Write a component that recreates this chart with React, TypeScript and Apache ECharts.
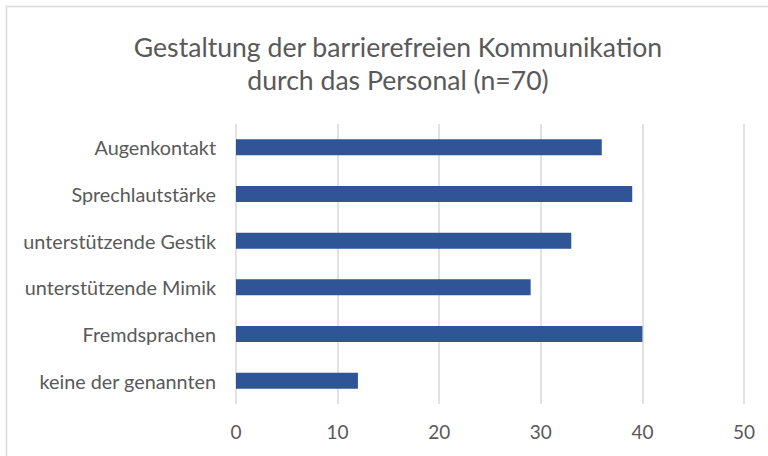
import React, { useEffect, useRef } from "react";
import * as echarts from "echarts";

const categories = [
  "Augenkontakt",
  "Sprechlautstärke",
  "unterstützende Gestik",
  "unterstützende Mimik",
  "Fremdsprachen",
  "keine der genannten",
];
const values = [36, 39, 33, 29, 40, 12];
const titleLines = ["Gestaltung der barrierefreien Kommunikation", "durch das Personal (n=70)"];

const FONT = "Lato, 'Open Sans', sans-serif";

export default function App() {
  const ref = useRef<HTMLDivElement>(null);
  useEffect(() => {
    if (!ref.current) return;
    const chart = echarts.init(ref.current, null, { renderer: "svg" });
    chart.setOption({
      animation: false,
      backgroundColor: "#ffffff",
      title: {
        text: titleLines.join("\n"),
        left: 393,
        textAlign: "center",
        top: 25,
        textStyle: {
          fontFamily: FONT,
          fontSize: 26.6,
          fontWeight: "normal",
          color: "#595959",
          lineHeight: 33,
        },
      },
      graphic: [
        {
          type: "rect",
          shape: { x: 6.5, y: 6.5, width: 800, height: 500 },
          style: { fill: "none", stroke: "#d9d9d9", lineWidth: 1.5 },
          silent: true,
        },
      ],
      grid: { left: 236, right: 24, top: 124, bottom: 52 },
      xAxis: {
        type: "value",
        min: 0,
        max: 50,
        interval: 10,
        axisLine: { show: false },
        axisTick: { show: false },
        splitLine: { show: true, lineStyle: { color: "#d9d9d9", width: 1.5 } },
        axisLabel: {
          fontFamily: FONT,
          fontSize: 19,
          color: "#595959",
          margin: 18,
        },
      },
      yAxis: {
        type: "category",
        data: categories,
        inverse: true,
        axisLine: { show: false },
        axisTick: { show: false },
        splitLine: { show: false },
        axisLabel: {
          fontFamily: FONT,
          fontSize: 19.8,
          color: "#595959",
          margin: 20,
        },
      },
      series: [
        {
          type: "bar",
          data: values,
          barWidth: 16,
          itemStyle: { color: "#2f5597" },
        },
      ],
    });
    return () => chart.dispose();
  }, []);
  return (
    <div
      ref={ref}
      style={{ position: "fixed", left: 0, top: 0, width: 768, height: 456 }}
    />
  );
}
